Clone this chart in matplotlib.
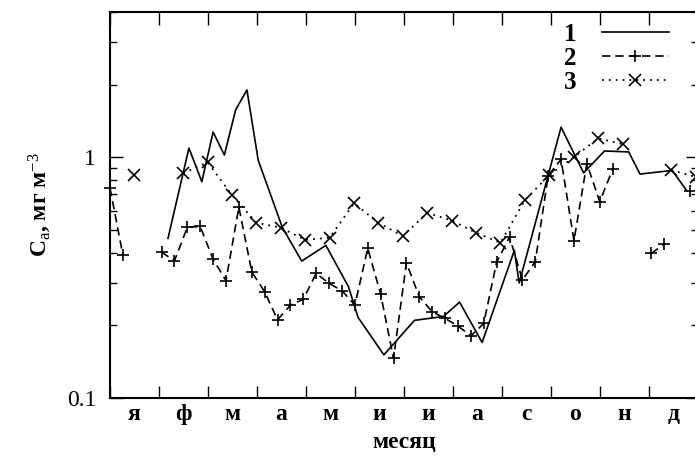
import numpy as np
import matplotlib
matplotlib.use('Agg')
import matplotlib.pyplot as plt
from matplotlib.ticker import FixedLocator, NullFormatter, LogLocator

plt.rcParams['font.family'] = ['Liberation Serif', 'DejaVu Serif']
plt.rcParams['mathtext.fontset'] = 'custom'
plt.rcParams['mathtext.rm'] = 'Liberation Serif'
plt.rcParams['mathtext.bf'] = 'Liberation Serif:bold'
plt.rcParams['mathtext.it'] = 'Liberation Serif:italic'

months = ['я', 'ф', 'м', 'а', 'м', 'и', 'и', 'а', 'с', 'о', 'н', 'д']

# series 1 - solid line, irregular dates (day of year)
days1 = [36, 49, 57, 64, 71, 78, 85, 92, 107, 119, 134, 148, 154, 170,
         189, 207, 217, 231, 251, 254, 280, 294, 307, 322, 329, 349, 358]
vals1 = [0.46, 1.09, 0.79, 1.27, 1.02, 1.57, 1.90, 0.97, 0.51, 0.37, 0.43,
         0.29, 0.216, 0.151, 0.21, 0.218, 0.25, 0.17, 0.41, 0.30, 1.33, 0.86,
         1.06, 1.05, 0.85, 0.88, 0.725]

# series 2 - 8-day periods (nan = no data)
period8 = np.arange(46) * 8
vals2 = [0.744, 0.392, np.nan, np.nan, 0.403, 0.371, 0.511, 0.515, 0.377,
         0.307, 0.620, 0.334, 0.276, 0.211, 0.243, 0.257, 0.329, 0.299,
         0.279, 0.243, 0.418, 0.270, 0.146, 0.364, 0.263, 0.228, 0.214,
         0.199, 0.181, 0.204, 0.366, 0.466, 0.309, 0.368, 0.838, 0.978,
         0.450, 0.940, 0.653, 0.889, np.nan, np.nan, 0.398, 0.436, np.nan,
         0.723]

# series 3 - half-month values
half_month = np.arange(25) * 15.15
vals3 = [np.nan, 0.842, np.nan, 0.856, 0.951, 0.695, 0.534, 0.509, 0.453,
         0.463, 0.643, 0.533, 0.470, 0.587, 0.545, 0.485, 0.441, 0.663,
         0.842, 0.997, 1.196, 1.132, np.nan, 0.883, 0.826]

fig = plt.figure(figsize=(6.95, 4.57), dpi=100)
ax = fig.add_axes([110 / 695, 59 / 457, 588 / 695, 386 / 457])

ax.plot(days1, vals1, '-', color='black', lw=1.2, label='1')
ax.plot(period8, vals2, color='black', lw=1.2, ls=(0, (5, 3)), marker='+',
        ms=9, mew=1.2, label='2', clip_on=False)
ax.plot(half_month, vals3, color='black', lw=1.3, ls=(0, (1, 2.8)), marker='x',
        ms=8, mew=1.2, label='3')

ax.set_yscale('log')
ax.set_ylim(0.1, 4)
ax.set_xlim(0, 365)

ax.yaxis.set_major_locator(FixedLocator([0.1, 1]))
ax.set_yticklabels(['0.1', '1'])
ax.yaxis.set_minor_locator(LogLocator(base=10, subs=np.arange(2, 10)))
ax.yaxis.set_minor_formatter(NullFormatter())

mlen = 365 / 12
ax.xaxis.set_major_locator(FixedLocator(np.arange(13) * mlen))
ax.xaxis.set_major_formatter(NullFormatter())
ax.xaxis.set_minor_locator(FixedLocator((np.arange(12) + 0.5) * mlen))
ax.set_xticklabels(months, minor=True, fontweight='bold', fontsize=17)

ax.tick_params(which='both', direction='in', top=True, right=True)
ax.tick_params(which='major', length=9, width=1.0)
ax.tick_params(axis='y', which='minor', length=5, width=1.0)
ax.tick_params(axis='x', which='minor', length=0, pad=4)
ax.tick_params(axis='y', which='major', labelsize=17, pad=10)

for s in ax.spines.values():
    s.set_linewidth(1.5)

ax.set_xlabel('месяц', fontweight='bold', fontsize=17, labelpad=5)
ax.set_ylabel(r'$\mathbf{C}_{\mathrm{a}}$, мг м$^{-3}$', fontweight='bold',
              fontsize=17, labelpad=10)

ax.legend(loc='upper right', bbox_to_anchor=(0.972, 1.005), frameon=False,
          markerfirst=False, handlelength=2.7, handletextpad=1.0,
          labelspacing=0.05, borderpad=0, prop={'weight': 'bold', 'size': 18})

fig.savefig('out.png', dpi=100)
